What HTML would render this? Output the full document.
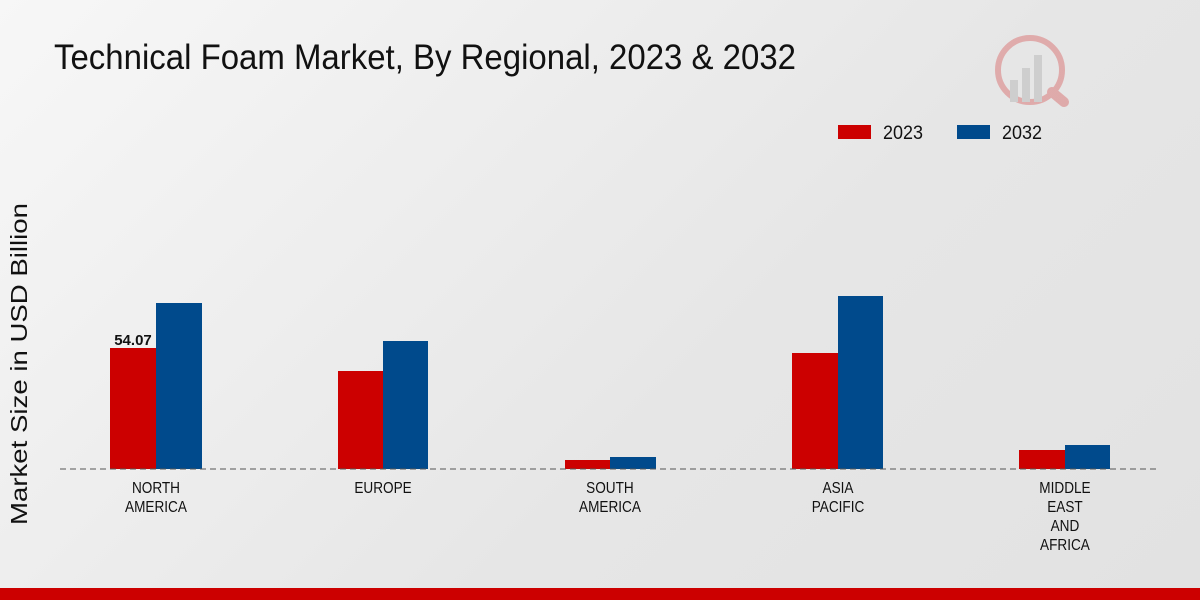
<!DOCTYPE html>
<html><head><meta charset="utf-8"><style>
body{margin:0;width:1200px;height:600px;overflow:hidden;background:linear-gradient(135deg,#f7f7f7 0%,#e6e6e6 60%,#e2e2e2 100%);font-family:"Liberation Sans",sans-serif;}
</style></head><body>
<svg width="1200" height="600" xmlns="http://www.w3.org/2000/svg" style="position:absolute;left:0;top:0" font-family="Liberation Sans, sans-serif">
<text x="54" y="69" font-size="35" fill="#111" textLength="742" lengthAdjust="spacingAndGlyphs">Technical Foam Market, By Regional, 2023 &amp; 2032</text>
<g opacity="0.25">
<circle cx="1030" cy="70" r="32" fill="none" stroke="#c00" stroke-width="6"/>
<rect x="1010" y="80" width="8" height="22" fill="#888"/><rect x="1022" y="68" width="8" height="34" fill="#888"/><rect x="1034" y="55" width="8" height="47" fill="#888"/>
<line x1="1052" y1="92" x2="1064" y2="102" stroke="#c00" stroke-width="10" stroke-linecap="round"/>
</g>
<rect x="838" y="125" width="33" height="14" fill="#cc0000"/>
<text x="883" y="139" font-size="19" fill="#111" textLength="40" lengthAdjust="spacingAndGlyphs">2023</text>
<rect x="957" y="125" width="33" height="14" fill="#004a8c"/>
<text x="1002" y="139" font-size="19" fill="#111" textLength="40" lengthAdjust="spacingAndGlyphs">2032</text>
<text transform="translate(27,364) rotate(-90)" text-anchor="middle" font-size="23" fill="#111" textLength="322" lengthAdjust="spacingAndGlyphs">Market Size in USD Billion</text>
<g fill="#cc0000">
<rect x="110" y="348" width="46" height="121"/>
<rect x="338" y="371" width="45" height="98"/>
<rect x="565" y="460" width="45" height="9"/>
<rect x="792" y="353" width="46" height="116"/>
<rect x="1019" y="450" width="46" height="19"/>
</g>
<g fill="#004a8c">
<rect x="156" y="303" width="46" height="166"/>
<rect x="383" y="341" width="45" height="128"/>
<rect x="610" y="457" width="46" height="12"/>
<rect x="838" y="296" width="45" height="173"/>
<rect x="1065" y="445" width="45" height="24"/>
</g>
<line x1="60" y1="469" x2="1160" y2="469" stroke="#555" stroke-width="1" stroke-dasharray="6,4"/>
<text x="133" y="345" text-anchor="middle" font-size="15" font-weight="bold" fill="#111">54.07</text>
<g font-size="16" fill="#111" text-anchor="middle" transform="scale(0.85,1)">
<text x="183.5" y="493">NORTH</text><text x="183.5" y="512">AMERICA</text>
<text x="450.6" y="493">EUROPE</text>
<text x="717.6" y="493">SOUTH</text><text x="717.6" y="512">AMERICA</text>
<text x="985.9" y="493">ASIA</text><text x="985.9" y="512">PACIFIC</text>
<text x="1252.9" y="493">MIDDLE</text><text x="1252.9" y="512">EAST</text><text x="1252.9" y="531">AND</text><text x="1252.9" y="550">AFRICA</text>
</g>
<rect x="0" y="588" width="1200" height="12" fill="#cc0000"/>
</svg>
</body></html>
